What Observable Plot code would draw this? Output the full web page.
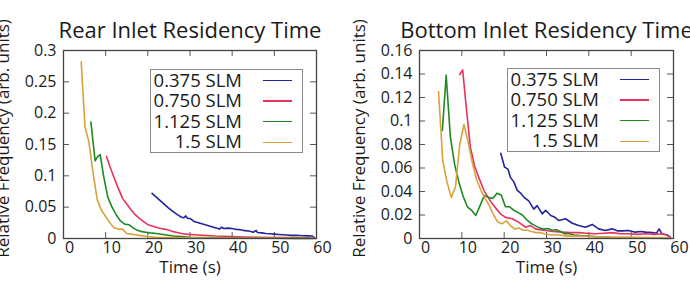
<!DOCTYPE html>
<html><head><meta charset="utf-8">
<script src="https://cdn.jsdelivr.net/npm/d3@7"></script>
<script src="https://cdn.jsdelivr.net/npm/@observablehq/plot@0.6"></script>
<style>
body{margin:0;background:#fff;font-family:"Open Sans",sans-serif;}
#wrap{position:relative;width:690px;height:288px;overflow:hidden;display:flex;}
#wrap svg{display:block;flex:none;}
.legend{position:absolute;border:1px solid #8a8a8a;background:#fff;box-sizing:border-box;width:153px;height:84px;}
.lt{position:absolute;right:60px;font-size:18.5px;line-height:20px;color:#1a1a1a;white-space:nowrap;}
.ll{position:absolute;left:112px;width:29px;height:1.6px;}
</style></head>
<body><div id="wrap"></div>
<script>
const seriesNames = ["0.375 SLM", "0.750 SLM", "1.125 SLM", "1.5 SLM"];
const seriesColors = ["#23239c", "#e8325c", "#1f8a24", "#d9a23a"];
const xTicks = [0, 10, 20, 30, 40, 50, 60];
const rearYTicks = [0, 0.05, 0.1, 0.15, 0.2, 0.25, 0.3];
const bottomYTicks = [0, 0.02, 0.04, 0.06, 0.08, 0.1, 0.12, 0.14, 0.16];

// Rear inlet panel
const rearT375 = [21,22,23,24,25,26,27,28,28.5,29,29.5,30,31,32,33,34,35,36,37,37.5,38,39,40,41,42,43,44,45,45.7,46,47,48,49,50,51,52,53,54,55,56,57,58,59,59.7];
const rearV375 = [0.072,0.066,0.060,0.054,0.048,0.043,0.038,0.034,0.033,0.036,0.032,0.032,0.027,0.025,0.023,0.021,0.019,0.017,0.015,0.018,0.016,0.0165,0.016,0.0145,0.014,0.0125,0.012,0.010,0.013,0.0095,0.009,0.008,0.0075,0.007,0.0065,0.006,0.0055,0.005,0.005,0.0048,0.0045,0.0042,0.004,0.0];
const rearT750 = [10.2,11,12,13,14,15,16,17,18,19,20,21,22,23,24,25,26,27,28,29,30,32,34,36,38,40,43,46,50,54,58,59.5];
const rearV750 = [0.131,0.115,0.097,0.08,0.064,0.055,0.046,0.038,0.032,0.027,0.022,0.020,0.018,0.016,0.015,0.013,0.011,0.0095,0.008,0.007,0.0065,0.0055,0.0048,0.004,0.0035,0.003,0.0025,0.002,0.0017,0.0014,0.001,0];
const rearT1125 = [6.5,7.5,8,8.7,9.5,10.5,11.5,12.5,13.5,14.5,15.5,16.5,17.5,18.5,19.5,20.5,22,24,26,28,30,33,36,40,45,50,55,59];
const rearV1125 = [0.186,0.124,0.130,0.134,0.100,0.066,0.050,0.038,0.028,0.023,0.022,0.017,0.013,0.011,0.010,0.009,0.008,0.006,0.004,0.003,0.002,0.0015,0.001,0.0007,0.0005,0.0003,0.0002,0];
const rearT15 = [4.2,5.1,6,7,8,9,10,11,12,13,14,15,16,17,18,19,20,22,25,30,35,40,50,59];
const rearV15 = [0.282,0.178,0.155,0.105,0.062,0.045,0.035,0.025,0.017,0.015,0.015,0.008,0.007,0.006,0.005,0.004,0.003,0.002,0.0015,0.001,0.0007,0.0005,0.0003,0];

// Bottom inlet panel
const botT375 = [19.2,20.1,20.9,21.5,22.3,23.1,23.9,24.7,25.8,27,27.8,29,29.8,31,32,32.9,34.5,36.1,37.6,39.2,40.8,42.3,43.9,45.5,46.7,47.9,49.4,51,52.2,53.4,55,56,56.6,57.3,58.5,59.3];
const botV375 = [0.0726,0.0607,0.059,0.052,0.048,0.041,0.0386,0.035,0.032,0.025,0.028,0.021,0.024,0.0196,0.018,0.0153,0.0168,0.013,0.011,0.0096,0.012,0.0082,0.0068,0.0082,0.0065,0.0065,0.0068,0.0054,0.006,0.0054,0.005,0.0045,0.0082,0.004,0.003,0.001];
const botT750 = [9.5,10.2,10.9,12,13,14,15.2,16.2,17.2,18.2,19.1,20.3,21.9,23.4,25,26.2,27.5,29.8,31.5,33.7,35.5,37.6,39.5,41.6,43.5,45.5,47.5,49.4,51.5,53.4,55.5,57.3,58.5,59.3];
const botV750 = [0.1396,0.1435,0.117,0.078,0.062,0.052,0.041,0.035,0.0295,0.025,0.021,0.018,0.0168,0.0139,0.0096,0.011,0.008,0.0068,0.006,0.0054,0.005,0.005,0.0045,0.004,0.0045,0.005,0.004,0.004,0.0035,0.004,0.0035,0.004,0.003,0];
const botT1125 = [5.4,6.3,7.3,8.3,9.3,10.3,11.3,12.3,13.3,14.3,15.3,16.3,17.3,18.3,19.3,20.3,21.3,22.3,23.3,24.3,25.3,26.3,27.3,28.3,29.3,30.3,31.3,32.3,33.3,34.3,35.3,36.5,38,40,42,45,48,52,56,59];
const botV1125 = [0.092,0.139,0.086,0.063,0.048,0.036,0.027,0.024,0.0196,0.028,0.0366,0.035,0.034,0.0386,0.037,0.027,0.027,0.024,0.022,0.020,0.016,0.013,0.011,0.009,0.008,0.0085,0.007,0.0075,0.006,0.004,0.004,0.003,0.0025,0.002,0.0015,0.001,0.0008,0.0005,0.0003,0];
const botT15 = [4.5,5.5,6.5,7.5,8.5,9.5,10.5,11.5,12.5,13.5,14.5,15.5,16.5,17.5,18.5,19.5,20.5,21.5,22.5,23.5,24.5,25.5,26.5,27.5,28.5,29.5,31,33,35,38,42,46,50,55,59];
const botV15 = [0.125,0.066,0.048,0.035,0.044,0.080,0.097,0.082,0.064,0.050,0.041,0.034,0.028,0.020,0.014,0.0125,0.015,0.011,0.008,0.009,0.007,0.007,0.006,0.005,0.005,0.004,0.003,0.003,0.002,0.002,0.0015,0.001,0.001,0.0008,0.0005];

function rows(ts, vs, s) { return ts.map((t, i) => ({t, v: vs[i], s})); }

const fmt = d => String(+d.toFixed(3));

function panel({title, data, yMax, yTicks, marginLeft, marginRight}) {
  const W = 345, H = 288, mt = 50, mb = 50;
  const fw = W - marginLeft - marginRight, fh = H - mt - mb;
  return Plot.plot({
    width: W, height: H, marginTop: mt, marginBottom: mb, marginLeft, marginRight,
    style: {fontFamily: "Open Sans, sans-serif", fontSize: "16px", color: "#1a1a1a", background: "#fff", overflow: "hidden"},
    x: {domain: [0, 60]},
    y: {domain: [0, yMax]},
    color: {domain: seriesNames, range: seriesColors},
    marks: [
      Plot.axisX({ticks: xTicks, tickSize: 0, tickPadding: 3, dx: 6, fontSize: 16, label: null}),
      Plot.axisY({ticks: yTicks, tickSize: 0, tickPadding: 7, tickFormat: fmt, fontSize: 16, label: null}),
      Plot.ruleX(xTicks, {x: d => d, insetTop: fh - 6, stroke: "#555", strokeWidth: 1}),
      Plot.ruleX(xTicks, {x: d => d, insetBottom: fh - 6, stroke: "#555", strokeWidth: 1}),
      Plot.ruleY(yTicks, {y: d => d, insetRight: fw - 6, stroke: "#555", strokeWidth: 1}),
      Plot.ruleY(yTicks, {y: d => d, insetLeft: fw - 6, stroke: "#555", strokeWidth: 1}),
      Plot.line(data, {x: "t", y: "v", z: "s", stroke: "s", strokeWidth: 1.6, curve: "linear"}),
      Plot.frame({stroke: "#444", strokeWidth: 1.3}),
      Plot.text([title], {text: d => d, frameAnchor: "top", textAnchor: "middle", dy: -28, fontSize: 22, fill: "#1a1a1a"}),
      Plot.text(["Time (s)"], {text: d => d, frameAnchor: "bottom", textAnchor: "middle", dy: 34, fontSize: 17, fill: "#1a1a1a"}),
      Plot.text(["Relative Frequency (arb. units)"], {text: d => d, frameAnchor: "left", textAnchor: "middle", rotate: -90, dx: -60, dy: -6, fontSize: 17, fill: "#1a1a1a"})
    ]
  });
}

const rearData = [
  ...rows(rearT375, rearV375, seriesNames[0]),
  ...rows(rearT750, rearV750, seriesNames[1]),
  ...rows(rearT1125, rearV1125, seriesNames[2]),
  ...rows(rearT15, rearV15, seriesNames[3])
];
const botData = [
  ...rows(botT375, botV375, seriesNames[0]),
  ...rows(botT750, botV750, seriesNames[1]),
  ...rows(botT1125, botV1125, seriesNames[2]),
  ...rows(botT15, botV15, seriesNames[3])
];

const wrap = document.getElementById("wrap");
wrap.appendChild(panel({title: "Rear Inlet Residency Time", data: rearData, yMax: 0.3, yTicks: rearYTicks, marginLeft: 63, marginRight: 29}));
wrap.appendChild(panel({title: "Bottom Inlet Residency Time", data: botData, yMax: 0.16, yTicks: bottomYTicks, marginLeft: 74, marginRight: 17}));

function legend(left, top) {
  const box = document.createElement("div");
  box.className = "legend";
  box.style.left = left + "px";
  box.style.top = top + "px";
  seriesNames.forEach((name, i) => {
    const cy = 10.5 + i * 20.6;
    const t = document.createElement("div");
    t.className = "lt"; t.textContent = name; t.style.top = (cy - 11) + "px";
    const l = document.createElement("div");
    l.className = "ll"; l.style.background = seriesColors[i]; l.style.top = (cy - 0.8) + "px";
    box.appendChild(t); box.appendChild(l);
  });
  wrap.appendChild(box);
}
legend(150, 69);
legend(507, 68);
</script></body></html>
